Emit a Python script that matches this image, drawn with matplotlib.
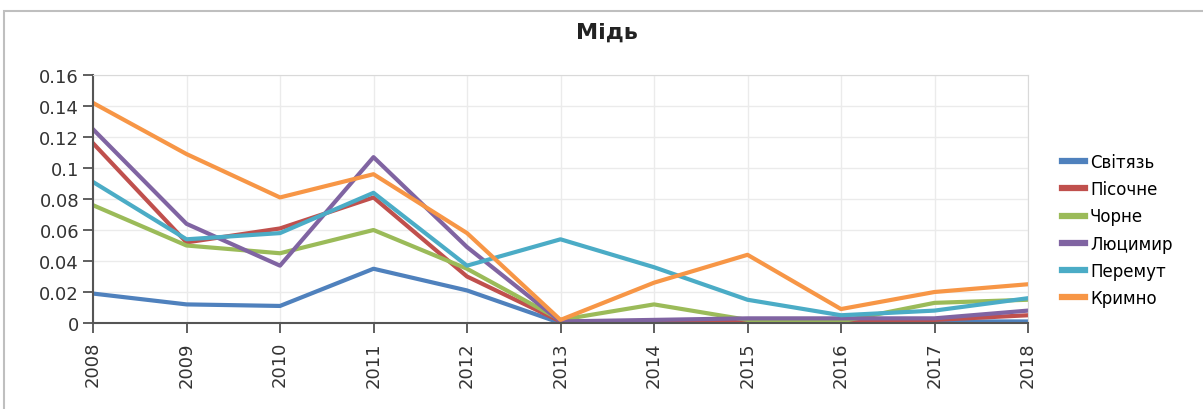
import matplotlib
matplotlib.use("Agg")
import matplotlib.pyplot as plt
from matplotlib.patches import Rectangle

plt.rcParams['font.family'] = ['DejaVu Sans']

years = [2008, 2009, 2010, 2011, 2012, 2013, 2014, 2015, 2016, 2017, 2018]

svitiaz = [0.019, 0.012, 0.011, 0.035, 0.021, 0.000, 0.000, 0.002, 0.001, 0.001, 0.001]
pisochne = [0.116, 0.052, 0.061, 0.081, 0.030, 0.001, 0.001, 0.002, 0.002, 0.002, 0.005]
chorne = [0.076, 0.050, 0.045, 0.060, 0.035, 0.002, 0.012, 0.002, 0.001, 0.013, 0.015]
liutsymyr = [0.125, 0.064, 0.037, 0.107, 0.049, 0.001, 0.002, 0.003, 0.003, 0.003, 0.008]
peremut = [0.091, 0.054, 0.058, 0.084, 0.037, 0.054, 0.036, 0.015, 0.005, 0.008, 0.016]
krymno = [0.142, 0.109, 0.081, 0.096, 0.058, 0.002, 0.026, 0.044, 0.009, 0.020, 0.025]

names = ["Світязь", "Пісочне", "Чорне", "Люцимир", "Перемут", "Кримно"]
series = [svitiaz, pisochne, chorne, liutsymyr, peremut, krymno]
colors = ["#4F81BD", "#C0504D", "#9BBB59", "#8064A2", "#4BACC6", "#F79646"]

fig = plt.figure(figsize=(12.03, 4.10), dpi=100)
# рамка діаграми
fig.patches.append(Rectangle((4 / 1203, -0.05), 1.1, 1 - 12 / 410 + 0.05,
                             transform=fig.transFigure, fill=False,
                             edgecolor="#BFBFBF", linewidth=1.5))

ax = fig.add_axes([93 / 1203, 1 - 324 / 410, (1028 - 93) / 1203, (324 - 76) / 410])

for ys, name, c in zip(series, names, colors):
    ax.plot(years, ys, color=c, linewidth=3, label=name)

ax.set_xlim(2008, 2018)
ax.set_ylim(0, 0.16)
ax.set_xticks(years)
ax.set_xticklabels([str(y) for y in years], rotation=90, fontsize=13, color="#333333")
ax.set_yticks([0, 0.02, 0.04, 0.06, 0.08, 0.1, 0.12, 0.14, 0.16])
ax.set_yticklabels(["0", "0.02", "0.04", "0.06", "0.08", "0.1", "0.12", "0.14", "0.16"],
                   fontsize=13, color="#333333")
ax.grid(True, color="#EBEBEB", linewidth=1)
ax.set_axisbelow(True)
ax.tick_params(axis="both", length=7, width=1.2, color="#444444", direction="out")
ax.tick_params(axis="x", pad=6)
ax.tick_params(axis="y", pad=3)
ax.spines["left"].set_color("#555555")
ax.spines["bottom"].set_color("#555555")
ax.spines["left"].set_linewidth(1.5)
ax.spines["bottom"].set_linewidth(1.5)
ax.spines["top"].set_color("#D9D9D9")
ax.spines["right"].set_color("#D9D9D9")

fig.text(607 / 1203, 1 - 33 / 410, "Мідь", ha="center", va="center",
         fontsize=16, fontweight="bold", color="#222222")

leg = ax.legend(loc="center left", bbox_to_anchor=(1.02, 0.375), frameon=False,
                fontsize=12, handlelength=1.4, handletextpad=0.3, labelspacing=0.55)
for line in leg.get_lines():
    line.set_linewidth(4.5)

fig.savefig("out.png", dpi=100)
